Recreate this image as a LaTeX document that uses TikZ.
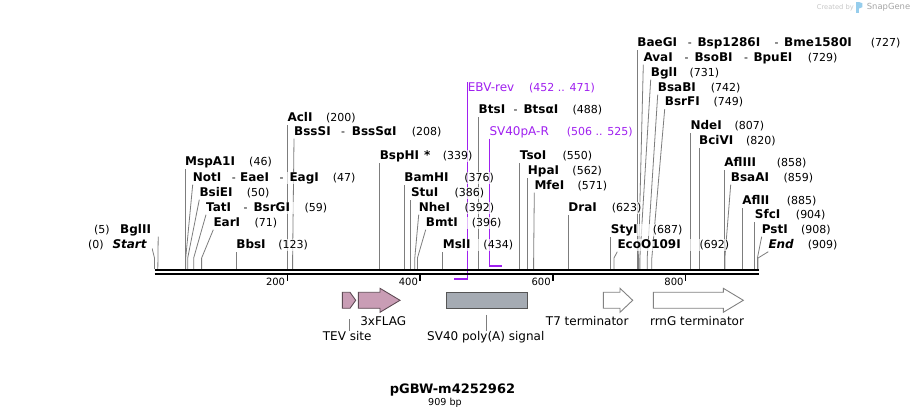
\documentclass[tikz,border=0pt]{standalone}
\usepackage{fontspec}
\setmainfont{DejaVu Sans}
\pgfdeclarelayer{back}
\pgfdeclarelayer{bg}
\pgfsetlayers{back,bg,main}
\definecolor{sitegray}{RGB}{125,125,125}
\definecolor{primer}{RGB}{160,32,240}
\definecolor{pinkfill}{RGB}{201,157,181}
\definecolor{pinkline}{RGB}{95,75,85}
\definecolor{svfill}{RGB}{165,171,179}
\definecolor{svline}{RGB}{85,85,85}
\definecolor{arrline}{RGB}{130,130,130}
\definecolor{wmgray}{RGB}{200,200,200}
\definecolor{wmgraytwo}{RGB}{165,165,165}
\definecolor{wmblue}{RGB}{150,205,236}
\newcommand\enz[2]{\makebox[#1pt][l]{\fontsize{12}{14}\selectfont\bfseries #2}}
\newcommand\dsh[1]{\makebox[#1pt][l]{-}}
\newcommand\enzsite[5]{%
  \pgfmathsetmacro\sx{154.5+0.664*#2}%
  \coordinate (s#1) at (\sx,269);%
  \node[row] (l#1) at (#3,#4) {#5};%
  \begin{pgfonlayer}{bg}\draw[siteline] (s#1) -- ++(0,-11) -- (l#1.south west);\end{pgfonlayer}%
}
\tikzset{
  row/.style={anchor=base west, inner sep=0pt, text height=9pt, text depth=3pt,
    fill=white, fill opacity=0.7, text opacity=1, font=\fontsize{11}{13}\selectfont},
  siteline/.style={draw=sitegray, line width=0.8pt},
  primerline/.style={draw=primer, line width=1pt},
  primerbar/.style={draw=primer, line width=2pt},
  tickmark/.style={draw=black, line width=1.5pt},
  ticklab/.style={anchor=base east, inner sep=0pt, font=\fontsize{10}{12}\selectfont},
  pinkfeat/.style={draw=pinkline, fill=pinkfill, line width=0.9pt},
  svfeat/.style={draw=svline, fill=svfill, line width=0.9pt},
  whitefeat/.style={draw=arrline, fill=white, line width=0.9pt},
  featlab/.style={anchor=base, inner sep=1pt, font=\fontsize{12}{14}\selectfont},
  leader/.style={draw=sitegray, line width=0.8pt}
}
\begin{document}
\begin{tikzpicture}[x=1pt,y=-1pt]
\useasboundingbox (0,0) rectangle (914,419);
\begin{pgfonlayer}{back}
\fill[white] (0,0) rectangle (914,419);
\end{pgfonlayer}

% watermark
\node[anchor=base west, inner sep=0pt, font=\fontsize{6.7}{8}\selectfont, text=wmgray] (wmA) at (816.7,9.5) {Created by};
\fill[wmblue] (856,2) rectangle (858.8,13);
\fill[wmblue] (858.8,2) -- (862.3,3.2) -- (862.3,7.2) -- (858.8,8.6) -- cycle;
\node[anchor=base west, inner sep=0pt, font=\fontsize{8.4}{10}\selectfont, text=wmgraytwo] (wmB) at (866.7,9.5) {SnapGene};

% backbone
\draw[line width=2pt] (154.5,270) -- (758.5,270);
\draw[line width=2.2pt] (154.5,273.9) -- (758.5,273.9);

% ticks
\foreach \v in {200,400,600,800} {
  \pgfmathsetmacro\tx{154.5+0.664*\v}
  \coordinate (t\v) at (\tx,275);
  \draw[tickmark] (t\v) -- ++(0,6.5);
  \node[ticklab] (tl\v) at (\tx-2,286) {\v};
}

% left
\coordinate (sBglII) at ({154.5+0.664*5},269);
\node[row] (lBglII) at (94,233.5) {\makebox[26pt][l]{(5)}\enz{37.8}{BglII}};
\coordinate (sStart) at (154.5,269);
\node[row] (lStart) at (88,248.5) {\makebox[24.3pt][l]{(0)}\enz{39.4}{\itshape Start}};
\begin{pgfonlayer}{bg}
\draw[siteline] (sBglII) -- (lBglII.south east);
\draw[siteline] (sStart) -- ++(0,-11) -- (lStart.base east);
\end{pgfonlayer}

\enzsite{AclI}{200}{\sx}{121.5}{\enz{38.7}{AclI}(200)}
\enzsite{BssSI}{208}{294}{135.5}{\enz{47}{BssSI}\dsh{10.7}\enz{60}{BssSαI}(208)}
\enzsite{MspAI}{46}{\sx}{165.5}{\enz{64}{MspA1I}(46)}
\enzsite{NotI}{47}{192.7}{181.5}{\enz{39}{NotI}\dsh{8.3}\enz{39.3}{EaeI}\dsh{10}\enz{43.4}{EagI}(47)}
\enzsite{BsiEI}{50}{199.3}{196.5}{\enz{47.4}{BsiEI}(50)}
\enzsite{TatI}{59}{206}{211.5}{\enz{37.3}{TatI}\dsh{10}\enz{51}{BsrGI}(59)}
\enzsite{EarI}{71}{213.3}{226.5}{\enz{41}{EarI}(71)}
\enzsite{BbsI}{123}{\sx}{248.5}{\enz{42}{BbsI}(123)}

% middle
\enzsite{BspHI}{339}{\sx}{159.5}{\enz{44.4}{BspHI}\makebox[18.7pt][l]{\fontsize{12}{14}\selectfont\bfseries *}(339)}
\enzsite{BamHI}{376}{\sx}{181.5}{\enz{60}{BamHI}(376)}
\enzsite{StuI}{386}{\sx}{196.5}{\enz{43.5}{StuI}(386)}
\enzsite{NheI}{392}{418.7}{211.5}{\enz{45.6}{NheI}(392)}
\enzsite{BmtI}{396}{425.7}{226.5}{\enz{46}{BmtI}(396)}
\enzsite{MslI}{434}{\sx}{248.5}{\enz{40.6}{MslI}(434)}
\enzsite{BtsI}{488}{\sx}{113.5}{\enz{34.8}{BtsI}\dsh{10}\enz{49}{BtsαI}(488)}
\enzsite{TsoI}{550}{\sx}{159.5}{\enz{42.6}{TsoI}(550)}
\enzsite{HpaI}{562}{\sx}{174.5}{\enz{44.6}{HpaI}(562)}
\enzsite{MfeI}{571}{534.3}{189.5}{\enz{43}{MfeI}(571)}
\enzsite{DraI}{623}{\sx}{211.5}{\enz{43.5}{DraI}(623)}
\enzsite{StyI}{687}{\sx}{233.5}{\enz{42}{StyI}(687)}
\enzsite{EcoOI}{692}{617.3}{248.5}{\enz{82}{EcoO109I}(692)}

% right
\enzsite{BaeGI}{727}{\sx}{46.5}{\enz{50.5}{BaeGI}\dsh{9.6}\enz{77}{Bsp1286I}\dsh{9.7}\enz{86.7}{Bme1580I}(727)}
\enzsite{AvaI}{729}{643.3}{61.5}{\enz{41}{AvaI}\dsh{10}\enz{49.7}{BsoBI}\dsh{9.3}\enz{54.4}{BpuEI}(729)}
\enzsite{BglI}{731}{650.7}{76.5}{\enz{38.6}{BglI}(731)}
\enzsite{BsaBI}{742}{657.7}{91.5}{\enz{53}{BsaBI}(742)}
\enzsite{BsrFI}{749}{664.7}{106}{\enz{48.6}{BsrFI}(749)}
\enzsite{NdeI}{807}{\sx}{129.5}{\enz{44}{NdeI}(807)}
\enzsite{BciVI}{820}{\sx}{144.5}{\enz{47}{BciVI}(820)}
\enzsite{AflIII}{858}{\sx}{166.5}{\enz{52.5}{AflIII}(858)}
\enzsite{BsaAI}{859}{730.7}{181.5}{\enz{52.6}{BsaAI}(859)}
\enzsite{AflII}{885}{\sx}{204.5}{\enz{44.6}{AflII}(885)}
\enzsite{SfcI}{904}{\sx}{218.5}{\enz{41}{SfcI}(904)}
\enzsite{PstI}{908}{761.7}{233.5}{\enz{39.3}{PstI}(908)}
\enzsite{End}{909}{768.3}{248.5}{\enz{39.4}{\itshape End}(909)}

% primers
\node[row, text=primer] (lEBV) at (467.7,91.5) {\makebox[61.3pt][l]{\fontsize{12}{14}\selectfont EBV-rev}(452 .. 471)};
\node[row, text=primer] (lSVR) at (489.3,135.5) {\makebox[77.4pt][l]{\fontsize{12}{14}\selectfont SV40pA-R}(506 .. 525)};
\coordinate (ebvEnd) at (467.7,279);
\coordinate (ebvStart) at (454.3,279);
\coordinate (svrEnd) at (489.3,265.7);
\coordinate (svrStop) at (502,265.7);
\begin{pgfonlayer}{bg}
\draw[primerline] (lEBV.north west) -- (ebvEnd);
\draw[primerline] (lSVR.south west) -- (svrEnd);
\end{pgfonlayer}
\draw[primerbar] (ebvStart) -- (ebvEnd);
\draw[primerbar] (svrEnd) -- (svrStop);

% features
\draw[pinkfeat] (342.3,292.3) -- (350,292.3) -- (355.7,300.3) -- (350,308.3) -- (342.3,308.3) -- cycle;
\draw[pinkfeat] (358.3,292.3) -- (380,292.3) -- (380,288.3) -- (400,300.3) -- (380,312.3) -- (380,308.3) -- (358.3,308.3) -- cycle;
\draw[svfeat] (446.7,292.3) rectangle (527.7,308.3);
\draw[whitefeat] (603.3,292.3) -- (620,292.3) -- (620,288.3) -- (632.7,300.3) -- (620,312.3) -- (620,308.3) -- (603.3,308.3) -- cycle;
\draw[whitefeat] (653.3,292.3) -- (723.3,292.3) -- (723.3,288.3) -- (743.3,300.3) -- (723.3,312.3) -- (723.3,308.3) -- (653.3,308.3) -- cycle;

\node[featlab] (fTEV) at (347.2,341) {TEV site};
\node[featlab] (fFLAG) at (383.3,326) {3xFLAG};
\node[featlab] (fSV) at (485.8,341) {SV40 poly(A) signal};
\node[featlab] (fT7) at (587.2,326) {T7 terminator};
\node[featlab] (fRRN) at (697,326) {rrnG terminator};
\coordinate (tevTop) at (349.3,319.3);
\coordinate (svTop) at (486.7,315);
\draw[leader] (tevTop) -- (tevTop |- fTEV.north);
\draw[leader] (svTop) -- (svTop |- fSV.north);

% title
\node[anchor=base, inner sep=0pt, font=\fontsize{13}{15}\selectfont\bfseries] (title) at (452.5,394) {pGBW-m4252962};
\node[anchor=base, inner sep=0pt, font=\fontsize{9.6}{11}\selectfont] (bp) at (445,405.5) {909 bp};
\end{tikzpicture}
\end{document}
